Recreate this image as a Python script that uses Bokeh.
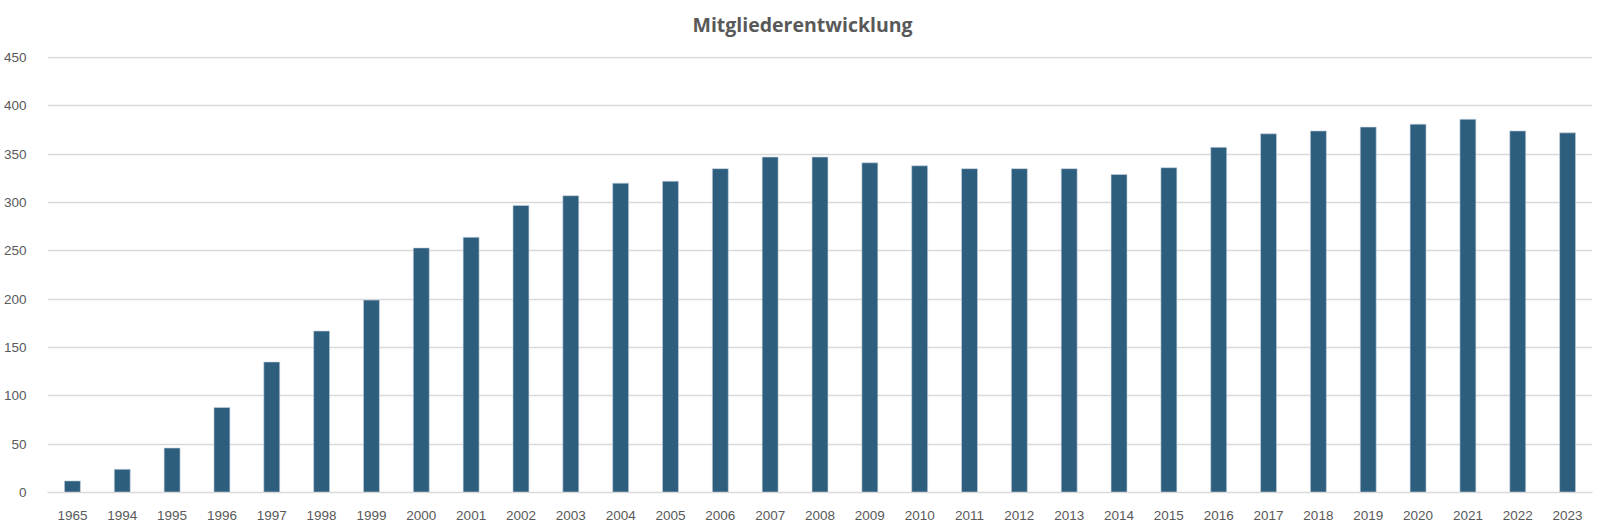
from bokeh.plotting import figure
from bokeh.models import FactorRange, Range1d, ColumnDataSource, SingleIntervalTicker, Title
from bokeh.embed import file_html
from bokeh.resources import INLINE

years = ["1965", "1994", "1995", "1996", "1997", "1998", "1999", "2000", "2001", "2002",
         "2003", "2004", "2005", "2006", "2007", "2008", "2009", "2010", "2011", "2012",
         "2013", "2014", "2015", "2016", "2017", "2018", "2019", "2020", "2021", "2022", "2023"]
members = [12, 24, 46, 88, 135, 167, 199, 253, 264, 297,
           307, 320, 322, 335, 347, 347, 341, 338, 335, 335,
           335, 329, 336, 357, 371, 374, 378, 381, 386, 374, 372]

title_text = "Mitgliederentwicklung"

src = ColumnDataSource(dict(x=years, y=members))

p = figure(width=1600, height=527, output_backend="svg", toolbar_location=None,
           x_range=FactorRange(*years, range_padding=0), y_range=Range1d(0, 451),
           min_border_left=43, min_border_right=8, min_border_bottom=35, min_border_top=56)

# spacer between title and plot area
p.add_layout(Title(text=" ", text_font_size="15.5px", standoff=0), "above")
p.add_layout(Title(text=title_text, align="left", vertical_align="bottom", text_font="Open Sans",
                   text_font_size="19.5px", text_font_style="bold", text_color="#595959",
                   standoff=0, offset=645), "above")

p.vbar(x="x", top="y", width=0.32, source=src, fill_color="#2e5e7e", line_color="#c8d4de",
       line_width=0.6)

p.outline_line_color = None
p.ygrid.grid_line_color = "#d9d9d9"
p.ygrid.grid_line_width = 1.3
p.xgrid.grid_line_color = None

p.yaxis.ticker = SingleIntervalTicker(interval=50)
p.yaxis.axis_line_color = None
p.yaxis.major_tick_line_color = None
p.yaxis.minor_tick_line_color = None
p.yaxis.major_label_standoff = 15
p.yaxis.major_label_text_font = "Liberation Sans"
p.yaxis.major_label_text_font_size = "13.5px"
p.yaxis.major_label_text_color = "#595959"

p.xaxis.axis_line_color = "#d9d9d9"
p.xaxis.axis_line_width = 1.3
p.xaxis.major_tick_line_color = None
p.xaxis.minor_tick_line_color = None
p.xaxis.major_label_standoff = 12
p.xaxis.major_label_text_font = "Liberation Sans"
p.xaxis.major_label_text_font_size = "13.5px"
p.xaxis.major_label_text_color = "#595959"

open("out.html", "w").write(file_html(p, INLINE))
